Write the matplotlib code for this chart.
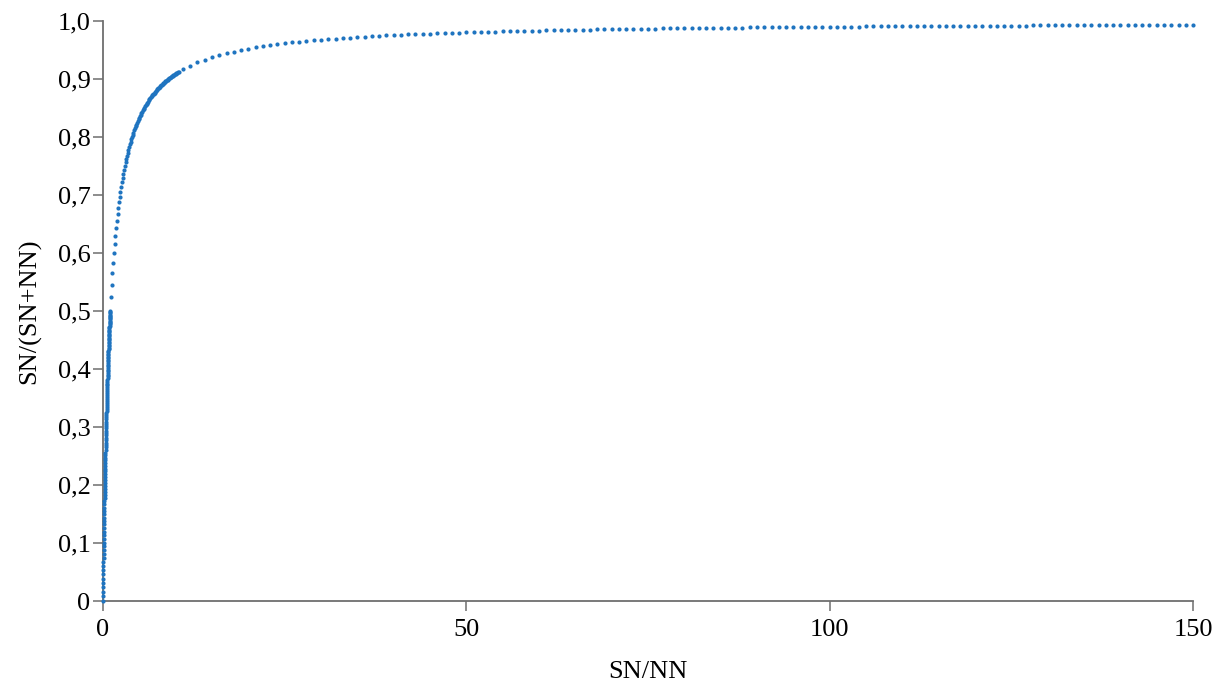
import numpy as np
import matplotlib.pyplot as plt
from matplotlib.ticker import FuncFormatter

plt.rcParams['font.family'] = ['Liberation Serif', 'DejaVu Serif']

# SN/NN sample grid: fine steps near zero, coarser further out
GRID_STARTS = [0.0, 1.1, 11.0]
GRID_STOPS = [1.0, 10.4, 150.0]
GRID_STEPS = [0.008, 0.1, 1.0]

X_TICKS = [0, 50, 100, 150]
Y_TICKS = [0, 0.1, 0.2, 0.3, 0.4, 0.5, 0.6, 0.7, 0.8, 0.9, 1.0]

ratio = np.concatenate([
    np.arange(a, b + s / 2, s) for a, b, s in zip(GRID_STARTS, GRID_STOPS, GRID_STEPS)
])
# SN/(SN+NN) expressed through SN/NN
share = ratio / (1.0 + ratio)

fig = plt.figure(figsize=(12.23, 6.84), dpi=100)
ax = fig.add_axes([0.0842, 0.1213, 0.8913, 0.848])

ax.scatter(ratio, share, s=9, color='#1f74c0', linewidths=0, clip_on=False, zorder=3)

ax.set_xlim(0, 150)
ax.set_ylim(0, 1.0)
ax.set_xticks(X_TICKS)
ax.set_yticks(Y_TICKS)


def comma(v, pos):
    if abs(v) < 1e-9:
        return '0'
    return f'{v:.1f}'.replace('.', ',')


ax.yaxis.set_major_formatter(FuncFormatter(comma))
ax.xaxis.set_major_formatter(FuncFormatter(lambda v, p: f'{int(round(v))}'))

for side in ('top', 'right'):
    ax.spines[side].set_visible(False)
for side in ('left', 'bottom'):
    ax.spines[side].set_color('#6e6e6e')
    ax.spines[side].set_linewidth(1.3)

ax.tick_params(axis='both', direction='out', length=7, width=1.1, color='#6e6e6e',
               labelsize=19, labelcolor='#000000')
ax.tick_params(axis='x', pad=6)
ax.tick_params(axis='y', pad=2)

ax.set_xlabel('SN/NN', fontsize=19, color='#000000', labelpad=14)
ax.set_ylabel('SN/(SN+NN)', fontsize=19, color='#000000', labelpad=12)

fig.savefig('out.png', dpi=100)
